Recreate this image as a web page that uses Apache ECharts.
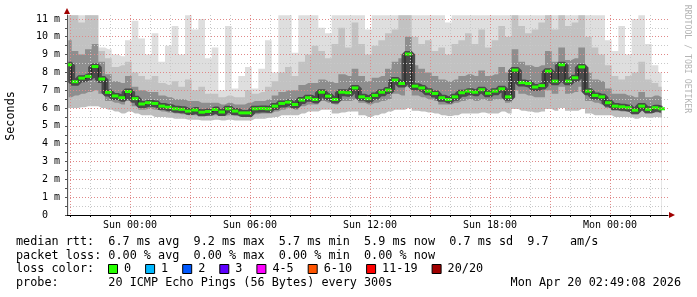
<!DOCTYPE html>
<html><head><meta charset="utf-8">
<script src="https://cdn.jsdelivr.net/npm/echarts@6/dist/echarts.min.js"></script>
<style>html,body{margin:0;padding:0;background:#fff}#c{width:697px;height:297px}</style>
</head><body><div id="c"></div>
<script>
// sample times: hours relative to Sun 00:00, one sample every 20 minutes
const startHour = -37 / 12;
const stepHour = 1 / 3;

const median = [
8.4,7.45,7.65,7.75,8.3,7.6,6.85,6.65,6.55,6.9,
6.5,6.2,6.27,6.23,6.08,6.02,5.93,5.9,5.8,5.86,
5.74,5.78,5.89,5.75,5.93,5.8,5.7,5.7,5.93,5.95,
5.93,6.08,6.23,6.3,6.17,6.42,6.55,6.45,6.86,6.64,
6.45,6.86,6.83,7.1,6.6,6.5,6.68,6.86,6.98,7.54,
7.35,9.0,7.2,7.1,6.92,6.79,6.55,6.45,6.6,6.83,
6.92,6.86,7.0,6.8,6.92,7.05,6.6,8.1,7.4,7.35,
7.15,7.23,8.04,7.48,8.4,7.48,7.67,8.28,6.92,6.68,
6.6,6.27,6.08,6.04,5.99,5.85,6.08,5.9,5.99,5.93];

const smokeLow = [
6.0,6.0,6.05,6.1,6.1,6.0,5.9,5.8,5.7,5.8,
5.7,5.6,5.6,5.5,5.5,5.45,5.4,5.4,5.35,5.35,
5.3,5.3,5.35,5.3,5.35,5.3,5.3,5.3,5.4,5.4,
5.45,5.5,5.6,5.6,5.6,5.7,5.8,5.8,5.9,5.9,
5.7,5.75,5.8,5.8,5.6,5.5,5.6,5.7,5.8,5.9,
5.9,6.0,5.85,5.8,5.75,5.7,5.6,5.55,5.6,5.7,
5.7,5.7,5.75,5.7,5.7,5.8,5.7,5.95,5.85,5.8,
5.75,5.8,5.95,5.85,6.0,5.85,5.85,5.95,5.7,5.6,
5.6,5.6,5.5,5.5,5.5,5.4,5.5,5.45,5.5,5.45];

const darkLow = [
6.6,6.7,6.8,6.9,7.0,6.8,6.4,6.3,6.2,6.4,
6.1,5.9,5.95,5.9,5.8,5.75,5.7,5.65,5.6,5.6,
5.55,5.55,5.6,5.55,5.6,5.55,5.5,5.5,5.65,5.7,
5.7,5.8,5.9,6.0,5.9,6.1,6.2,6.2,6.4,6.3,
6.2,6.4,6.4,6.5,6.3,6.2,6.3,6.4,6.5,6.8,
6.7,7.2,6.7,6.6,6.5,6.4,6.2,6.2,6.3,6.4,
6.5,6.4,6.5,6.4,6.5,6.5,6.3,7.0,6.8,6.7,
6.6,6.6,7.0,6.8,7.2,6.8,6.9,7.2,6.4,6.3,
6.2,6.0,5.85,5.8,5.8,5.65,5.85,5.7,5.75,5.7];

const darkHigh = [
9.8,9.2,9.0,9.3,9.6,8.6,7.9,7.5,7.4,7.8,
7.2,7.0,6.9,6.9,6.7,6.6,6.5,6.5,6.4,6.4,
6.3,6.3,6.3,6.2,6.3,6.2,6.2,6.3,6.4,6.4,
6.5,6.7,6.9,7.0,7.0,7.3,7.4,7.4,7.6,7.5,
7.4,7.9,7.8,8.2,7.8,7.5,7.7,7.8,8.2,8.6,
8.8,10.0,8.4,8.2,8.0,7.8,7.6,7.5,7.6,7.8,
7.9,7.8,8.1,7.8,7.9,8.3,8.0,9.3,8.6,8.4,
8.3,8.4,9.2,8.6,9.4,8.7,8.8,9.4,8.0,7.6,
7.5,7.1,6.8,6.8,6.7,6.6,6.9,6.6,6.7,6.6];

const midHigh = [
11.2,11.2,10.8,11.2,11.2,9.2,8.8,8.3,8.4,8.6,
8.0,7.8,7.6,7.8,7.4,7.3,7.5,7.2,7.6,7.0,
7.2,6.8,6.8,6.6,6.7,6.6,6.6,7.0,6.8,6.9,
7.2,7.5,8.0,8.3,7.8,8.6,9.0,9.5,9.2,8.8,
9.6,10.5,9.4,10.8,9.6,9.0,9.5,9.8,10.2,10.4,
11.2,11.2,10.0,9.6,9.8,9.2,9.4,9.0,9.6,9.8,
10.2,9.6,10.4,9.4,9.8,10.6,10.0,11.2,10.6,10.2,
10.4,10.8,11.2,10.4,11.2,10.6,10.8,11.2,10.0,9.4,
9.0,8.4,7.8,7.6,7.8,8.0,8.6,7.6,7.4,7.2];

const smokeHigh = [
11.2,11.2,11.2,11.2,11.2,9.4,9.3,9.0,8.9,9.8,
10.9,9.9,9.0,10.2,8.6,9.5,10.6,9.0,11.2,10.4,
11.0,8.8,9.4,7.0,10.6,7.1,7.8,8.3,7.1,8.2,
9.8,8.0,11.2,11.2,9.1,11.2,11.2,11.2,10.5,10.2,
11.2,11.2,11.2,11.2,11.2,10.4,11.2,11.2,11.2,11.2,
11.2,11.2,11.2,11.2,11.2,11.2,11.2,10.8,11.2,11.2,
11.2,11.2,11.2,11.2,11.2,11.2,11.2,11.2,11.2,11.2,
11.2,11.2,11.2,11.2,11.2,11.2,11.2,11.2,11.2,11.2,
11.2,9.8,9.2,10.6,9.0,11.0,11.2,9.6,8.4,8.0];

const xTickHours = [0, 6, 12, 18, 24];
const xTickLabels = ['Sun 00:00', 'Sun 06:00', 'Sun 12:00', 'Sun 18:00', 'Mon 00:00'];
const xGridHours = [-3,-2,-1,0,1,2,3,4,5,6,7,8,9,10,11,12,13,14,15,16,17,18,19,20,21,22,23,24,25,26];
const yTickValues = [0,1,2,3,4,5,6,7,8,9,10,11];
const yTickLabels = ['0  ','1 m','2 m','3 m','4 m','5 m','6 m','7 m','8 m','9 m','10 m','11 m'];
const yGridValues = [0,0.5,1,1.5,2,2.5,3,3.5,4,4.5,5,5.5,6,6.5,7,7.5,8,8.5,9,9.5,10,10.5,11];

const statLines = [
  'median rtt:  6.7 ms avg  9.2 ms max  5.7 ms min  5.9 ms now  0.7 ms sd  9.7   am/s',
  'packet loss: 0.00 % avg  0.00 % max  0.00 % min  0.00 % now',
  'loss color:',
  'probe:       20 ICMP Echo Pings (56 Bytes) every 300s'
];
const dateText = 'Mon Apr 20 02:49:08 2026';
const lossLabels = ['0', '1', '2', '3', '4-5', '6-10', '11-19', '20/20'];
const lossColors = ['#26ff00', '#00b8ff', '#0059ff', '#5e00ff', '#ff00ff', '#ff5500', '#ff0000', '#a00000'];

const times = median.map((_, i) => startHour + i * stepHour);
const pairs = arr => arr.map((v, i) => [times[i], v]);

function band(arr, color, z) {
  return {
    type: 'line', data: pairs(arr), step: 'middle', symbol: 'none', silent: true,
    lineStyle: { width: 0 }, areaStyle: { color: color, opacity: 1, origin: 'start' },
    z: z, animation: false
  };
}

const MONO = '"DejaVu Sans Mono", monospace';
const chart = echarts.init(document.getElementById('c'), null, { renderer: 'canvas' });

const legendGraphics = [];
const lineY = [241.5, 255.5, 269, 283];
statLines.forEach((t, k) => {
  legendGraphics.push({ type: 'text', x: 16, y: lineY[k], silent: true,
    style: { text: t, font: '11.8px ' + MONO, fill: '#000', align: 'left', verticalAlign: 'middle' } });
});
legendGraphics.push({ type: 'text', x: 681, y: lineY[3], silent: true,
  style: { text: dateText, font: '11.8px ' + MONO, fill: '#000', align: 'right', verticalAlign: 'middle' } });
let bx = 108;
lossLabels.forEach((lab, k) => {
  legendGraphics.push({ type: 'rect', silent: true, shape: { x: bx + 0.5, y: 264.5, width: 9, height: 9 },
    style: { fill: lossColors[k], stroke: '#000', lineWidth: 1 } });
  legendGraphics.push({ type: 'text', x: bx + 16, y: lineY[2], silent: true,
    style: { text: lab, font: '11.8px ' + MONO, fill: '#000', align: 'left', verticalAlign: 'middle' } });
  bx += 30 + 7.1 * lab.length;
});
legendGraphics.push({ type: 'text', x: 11, y: 116, rotation: Math.PI / 2, silent: true,
  style: { text: 'Seconds', font: '11.8px ' + MONO, fill: '#000', align: 'center', verticalAlign: 'middle' } });
legendGraphics.push({ type: 'text', x: 687, y: 59, rotation: -Math.PI / 2, silent: true,
  style: { text: 'RRDTOOL / TOBI OETIKER', font: '8.2px ' + MONO, fill: '#b4b4b4', align: 'center', verticalAlign: 'middle' } });

const option = {
  animation: false,
  backgroundColor: '#fff',
  grid: { left: 67, right: 29, top: 15, bottom: 82, containLabel: false },
  xAxis: {
    type: 'value', min: -3.15, max: 26.9, z: 10,
    axisLine: { show: true, onZero: false, lineStyle: { color: '#000', width: 1 } },
    axisTick: { show: true, customValues: xGridHours, length: 2, lineStyle: { color: '#000' } },
    axisLabel: { customValues: xTickHours, formatter: v => xTickLabels[xTickHours.indexOf(v)],
      fontFamily: MONO, fontSize: 10, color: '#000', margin: 5 },
    splitLine: { show: true, lineStyle: { type: [1, 2], width: 1, color: ['#e08888', '#c8c8c8', '#c8c8c8'] } }
  },
  yAxis: {
    type: 'value', min: 0, max: 11.22, z: 10,
    axisLine: { show: true, onZero: false, lineStyle: { color: '#555', width: 1 } },
    axisTick: { show: true, customValues: yGridValues, length: 2, lineStyle: { color: '#555' } },
    axisLabel: { customValues: yTickValues, formatter: v => yTickLabels[yTickValues.indexOf(v)],
      fontFamily: MONO, fontSize: 10, color: '#000', margin: 7 },
    splitLine: { show: true, lineStyle: { type: [1, 2], width: 1, color: ['#e08888', '#c8c8c8'] } }
  },
  series: [
    band(smokeHigh, '#dedede', 1),
    band(midHigh, '#c2c2c2', 2),
    band(darkHigh, '#8e8e8e', 3),
    band(darkLow, '#bebebe', 4),
    band(smokeLow, '#ffffff', 5),
    { type: 'line', data: pairs(median), step: 'middle', symbol: 'none', silent: true,
      lineStyle: { color: '#4a4a4a', width: 7 }, z: 6 },
    { type: 'line', data: pairs(median), step: 'middle', symbol: 'none', silent: true,
      lineStyle: { color: '#202020', width: 1 }, z: 7 },
    { type: 'custom', data: pairs(median), silent: true, z: 8, clip: true,
      renderItem: (params, api) => {
        const t = api.value(0), v = api.value(1);
        const p0 = api.coord([t - stepHour / 2, v]);
        const p1 = api.coord([t + stepHour / 2, v]);
        return { type: 'rect', shape: { x: p0[0], y: p0[1] - 2, width: p1[0] - p0[0], height: 3 },
          style: { fill: lossColors[0] } };
      } }
  ],
  graphic: legendGraphics
};
chart.setOption(option);

// axis arrows, placed at the ends of the axes
const origin = chart.convertToPixel({ gridIndex: 0 }, [-3.15, 0]);
const topEnd = chart.convertToPixel({ gridIndex: 0 }, [-3.15, 11.22]);
const rightEnd = chart.convertToPixel({ gridIndex: 0 }, [26.9, 0]);
chart.setOption({ graphic: legendGraphics.concat([
  { type: 'polygon', silent: true, shape: { points: [[origin[0] - 3, topEnd[1] - 1], [origin[0] + 3, topEnd[1] - 1], [origin[0], topEnd[1] - 7]] },
    style: { fill: '#a00000' } },
  { type: 'polygon', silent: true, shape: { points: [[rightEnd[0] + 1, origin[1] - 3], [rightEnd[0] + 1, origin[1] + 3], [rightEnd[0] + 7, origin[1]]] },
    style: { fill: '#a00000' } }
]) });
</script></body></html>
